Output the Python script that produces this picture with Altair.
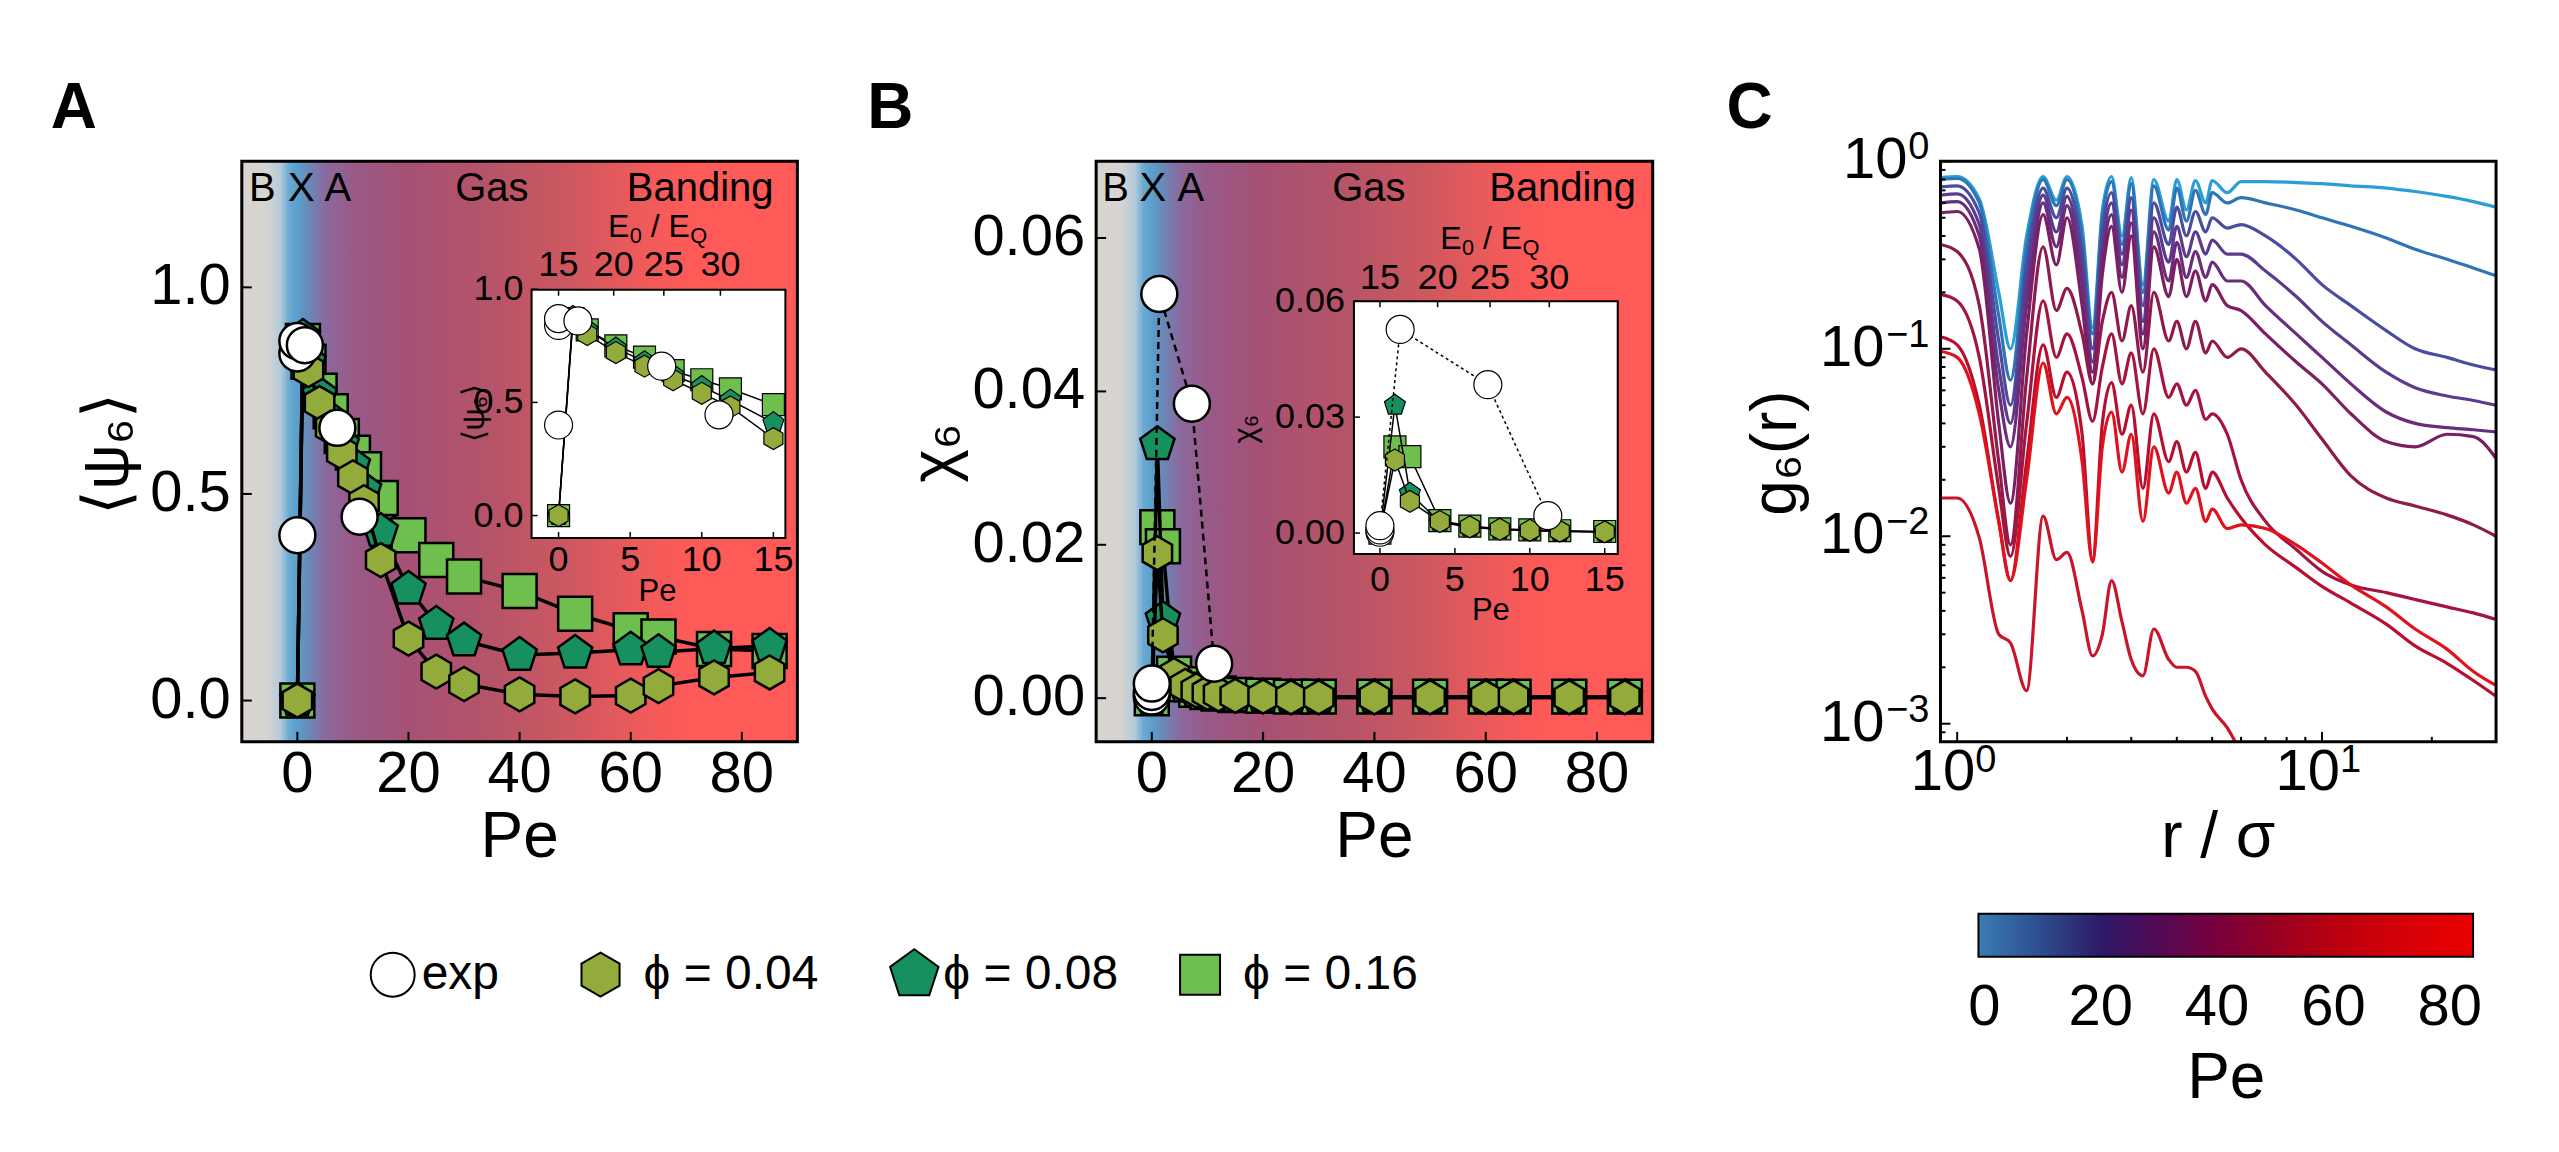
import altair as alt
import pandas as pd

FONT = "Liberation Sans"

# ---------------- Panel A / B data ----------------
PE_SIM = [0, 1, 2, 4, 6, 8, 10, 12, 15, 20, 25, 30, 40, 50, 60, 65, 75, 85]
PSI_PHI004 = [0.0, 0.86, 0.80, 0.72, 0.66, 0.60, 0.54, 0.48, 0.34, 0.15, 0.07, 0.04, 0.015, 0.01, 0.012, 0.035, 0.056, 0.068]
PSI_PHI008 = [0.0, 0.88, 0.82, 0.74, 0.68, 0.62, 0.57, 0.51, 0.41, 0.27, 0.185, 0.145, 0.11, 0.115, 0.123, 0.117, 0.126, 0.132]
PSI_PHI016 = [0.0, 0.87, 0.82, 0.75, 0.70, 0.64, 0.60, 0.56, 0.49, 0.40, 0.34, 0.30, 0.265, 0.21, 0.17, 0.155, 0.125, 0.12]
CHI_PHI004 = [0.0, 0.0189, 0.0082, 0.0030, 0.0016, 0.0010, 0.0007, 0.0005, 0.0003, 0.0002, 0.0001, 0.0001, 0.0001, 0.0001, 0.0001, 0.0001, 0.0001, 0.0001]
CHI_PHI008 = [0.0, 0.0331, 0.0103, 0.0028, 0.0015, 0.0009, 0.0006, 0.0004, 0.0002, 0.0002, 0.0001, 0.0001, 0.0001, 0.0001, 0.0001, 0.0001, 0.0001, 0.0001]
CHI_PHI016 = [0.0, 0.0223, 0.0198, 0.0032, 0.0018, 0.0011, 0.0008, 0.0006, 0.0004, 0.0003, 0.0002, 0.0002, 0.0002, 0.0002, 0.0002, 0.0002, 0.0002, 0.0002]
PE_EXP = [0, 0, 0, 1.35, 7.2, 11.2]
PSI_EXP = [0.40, 0.84, 0.87, 0.86, 0.66, 0.445]
CHI_EXP = [0.0002, 0.0008, 0.0019, 0.0527, 0.0384, 0.0045]

PHASE_NAMES = ["B", "X", "A", "Gas", "Banding"]
PHASE_PE_A = [-6.3, 0.7, 7.3, 35, 72.5]
PHASE_PE_B = [-6.5, 0.2, 7.0, 39, 73.8]

E0_LABELS = ["15", "20", "25", "30"]
E0_PE = [0.0, 3.85, 7.35, 11.3]

MAIN_X_TICKS = [0, 20, 40, 60, 80]
A_Y_TICKS = [0.0, 0.5, 1.0]
B_Y_TICKS = [0.0, 0.02, 0.04, 0.06]
INSET_X_TICKS = [0, 5, 10, 15]
INSET_A_Y_TICKS = [0.0, 0.5, 1.0]
INSET_B_Y_TICKS = [0.0, 0.03, 0.06]

LEGEND_LABELS = ["exp", "ϕ = 0.04", "ϕ = 0.08", "ϕ = 0.16"]

# background phase gradient (Pe position -> colour)
GRAD_PE = [-10, -5.5, -3, -1.5, 0, 2, 5, 10, 20, 35, 50, 62, 70, 90]
GRAD_COL = ["#d8d5d0", "#d6d4d0", "#b4cadb", "#6aaad4", "#5b9fcb", "#6a88b8", "#8a6a9e",
            "#985a88", "#a65174", "#b65468", "#d0585f", "#ef5a5a", "#fd5a58", "#ff5a58"]

# ---------------- Panel C data ----------------
R_GRID = [0.9, 1.0, 1.15, 1.3, 1.4, 1.55, 1.72, 1.87, 2.0, 2.2, 2.35, 2.5, 2.65, 2.83, 3.0, 3.23, 3.46,
          3.8, 4.0, 4.25, 4.5, 4.8, 5.0, 5.5, 6.0, 7.0, 8.5, 10, 12, 15, 18, 22, 26, 30]
G6_C01 = [0.82, 0.83, 0.63, 0.20, 0.10, 0.40, 0.83, 0.62, 0.83, 0.45, 0.13, 0.55, 0.83, 0.40, 0.82, 0.22, 0.80,
          0.48, 0.80, 0.55, 0.79, 0.60, 0.79, 0.68, 0.78, 0.78, 0.77, 0.76, 0.74, 0.72, 0.69, 0.65, 0.61, 0.57]
G6_C02 = [0.80, 0.81, 0.60, 0.15, 0.068, 0.35, 0.80, 0.58, 0.80, 0.40, 0.12, 0.50, 0.78, 0.36, 0.76, 0.20, 0.74,
          0.43, 0.72, 0.48, 0.70, 0.52, 0.68, 0.60, 0.64, 0.60, 0.55, 0.50, 0.45, 0.39, 0.34, 0.30, 0.27, 0.245]
G6_C03 = [0.73, 0.74, 0.53, 0.11, 0.050, 0.28, 0.72, 0.50, 0.72, 0.33, 0.10, 0.42, 0.68, 0.32, 0.64, 0.17, 0.60,
          0.36, 0.57, 0.40, 0.54, 0.42, 0.50, 0.44, 0.46, 0.40, 0.30, 0.22, 0.17, 0.125, 0.10, 0.090, 0.082, 0.077]
G6_C04 = [0.66, 0.67, 0.46, 0.08, 0.040, 0.22, 0.66, 0.42, 0.65, 0.27, 0.085, 0.35, 0.60, 0.28, 0.55, 0.14, 0.50,
          0.29, 0.45, 0.31, 0.42, 0.32, 0.38, 0.32, 0.32, 0.26, 0.19, 0.14, 0.105, 0.075, 0.062, 0.056, 0.053, 0.050]
G6_C05 = [0.60, 0.61, 0.40, 0.06, 0.030, 0.17, 0.60, 0.35, 0.58, 0.22, 0.075, 0.30, 0.52, 0.24, 0.47, 0.12, 0.42,
          0.23, 0.37, 0.24, 0.33, 0.24, 0.29, 0.23, 0.23, 0.17, 0.12, 0.090, 0.065, 0.046, 0.040, 0.038, 0.037, 0.036]
G6_C06 = [0.53, 0.54, 0.34, 0.04, 0.015, 0.12, 0.52, 0.28, 0.50, 0.17, 0.065, 0.25, 0.45, 0.20, 0.40, 0.10, 0.35,
          0.19, 0.30, 0.19, 0.26, 0.18, 0.22, 0.17, 0.16, 0.12, 0.085, 0.065, 0.045, 0.032, 0.030, 0.035, 0.034, 0.026]
G6_C07 = [0.36, 0.33, 0.17, 0.025, 0.009, 0.07, 0.35, 0.16, 0.21, 0.12, 0.065, 0.14, 0.20, 0.11, 0.17, 0.075, 0.20,
          0.11, 0.14, 0.10, 0.14, 0.095, 0.11, 0.09, 0.10, 0.075, 0.05, 0.033, 0.021, 0.016, 0.0145, 0.013, 0.0115, 0.010]
G6_C08 = [0.195, 0.18, 0.09, 0.018, 0.0078, 0.04, 0.18, 0.09, 0.12, 0.07, 0.041, 0.08, 0.12, 0.065, 0.095, 0.045, 0.10,
          0.055, 0.065, 0.05, 0.06, 0.042, 0.045, 0.035, 0.02, 0.012, 0.0085, 0.0065, 0.0055, 0.005, 0.0046, 0.0042, 0.0039, 0.0036]
G6_C09 = [0.116, 0.105, 0.05, 0.012, 0.0058, 0.025, 0.105, 0.055, 0.075, 0.035, 0.0075, 0.04, 0.066, 0.035, 0.05, 0.018, 0.045,
          0.025, 0.032, 0.022, 0.028, 0.018, 0.022, 0.016, 0.0125, 0.009, 0.0068, 0.0054, 0.0044, 0.0034, 0.0026, 0.0021, 0.0017, 0.0014]
G6_C10 = [0.097, 0.09, 0.045, 0.012, 0.0058, 0.02, 0.084, 0.045, 0.055, 0.025, 0.0073, 0.03, 0.046, 0.022, 0.035, 0.012, 0.03,
          0.017, 0.022, 0.015, 0.018, 0.012, 0.014, 0.011, 0.0115, 0.011, 0.009, 0.0072, 0.0055, 0.0042, 0.0032, 0.0025, 0.0019, 0.0016]
G6_C11 = [0.016, 0.016, 0.0098, 0.003, 0.0027, 0.0015, 0.0128, 0.0075, 0.0082, 0.004, 0.0023, 0.003, 0.0058, 0.0035, 0.0022, 0.0018, 0.0032,
          0.0022, 0.0020, 0.0020, 0.0019, 0.0014, 0.0012, 0.00095, 0.0007, None, None, None, None, None, None, None, None, None]
CURVE_NAMES = ["c01", "c02", "c03", "c04", "c05", "c06", "c07", "c08", "c09", "c10", "c11"]
CURVE_COLORS = ["#2a9fd6", "#2f74b4", "#4a4c9e", "#5c3b8e", "#6a2c7c", "#7c1e62", "#8f1a4c",
                "#a5143e", "#b80f30", "#e2121c", "#c9142a"]
CURVES = [G6_C01, G6_C02, G6_C03, G6_C04, G6_C05, G6_C06, G6_C07, G6_C08, G6_C09, G6_C10, G6_C11]

C_X_MAJOR = [1, 10]
C_X_EXP = ["0", "1"]
C_X_MINOR = [2, 3, 4, 5, 6, 7, 8, 9, 20, 30]
C_Y_MAJOR = [0.001, 0.01, 0.1, 1.0]
C_Y_EXP = ["−3", "−2", "−1", "0"]
C_Y_MINOR = [0.0009, 0.002, 0.003, 0.004, 0.005, 0.006, 0.007, 0.008, 0.009,
             0.02, 0.03, 0.04, 0.05, 0.06, 0.07, 0.08, 0.09,
             0.2, 0.3, 0.4, 0.5, 0.6, 0.7, 0.8, 0.9]

CB_PE = [-1, 10, 20, 30, 40, 50, 60, 70, 84]
CB_COL = ["#3a7db1", "#2d4b8c", "#2c1a68", "#530a55", "#78003c", "#980022", "#b90010", "#d10008", "#ea0000"]
CB_TICKS = [0, 20, 40, 60, 80]

# ---------------- style ----------------
HEX = "M0,-1L0.866,-0.5L0.866,0.5L0,1L-0.866,0.5L-0.866,-0.5Z"
PENT = "M0,-1L0.951,-0.309L0.588,0.809L-0.588,0.809L-0.951,-0.309Z"
COL_HEX = "#93ab3a"
COL_PENT = "#17905f"
COL_SQ = "#6fbf4f"
H = 581
LAB = 58
ONE = pd.DataFrame({"t": [""]})
ADV = {"E": 0.667, "0": 0.556, "/": 0.278, "Q": 0.778, " ": 0.278}


def text_layer(s, x, y, size, align="center", baseline="middle", angle=None, weight="normal", color="black"):
    kw = dict(text=s, fontSize=size, align=align, baseline=baseline, color=color,
              fontWeight=weight, font=FONT)
    if angle is not None:
        kw["angle"] = angle
    return alt.Chart(ONE).mark_text(**kw).encode(x=alt.value(x), y=alt.value(y))


def e0eq_layers(cx, base_y, size):
    sub = size * 0.68
    segs = [("E", size, 0, 0), ("0", sub, 0.18 * size, 0.05), ("/", size, 0, 1),
            ("E", size, 0, 1), ("Q", sub, 0.18 * size, 0.05)]
    total = sum(ADV[s] * f + pre * ADV[" "] * size for s, f, dy, pre in segs)
    x = cx - total / 2
    out = []
    for s, f, dy, pre in segs:
        x += pre * ADV[" "] * size
        out.append(text_layer(s, x, base_y + dy, f, align="left", baseline="alphabetic"))
        x += ADV[s] * f
    return out


def sim_df(psi, chi):
    return pd.DataFrame({"pe": PE_SIM, "psi": psi, "chi": chi, "i": list(range(len(PE_SIM)))})


EXP_DF = pd.DataFrame({"pe": PE_EXP, "psi": PSI_EXP, "chi": CHI_EXP, "i": list(range(len(PE_EXP)))})
SERIES = [
    (sim_df(PSI_PHI016, CHI_PHI016), "square", COL_SQ, 1156),
    (sim_df(PSI_PHI008, CHI_PHI008), PENT, COL_PENT, 1300),
    (sim_df(PSI_PHI004, CHI_PHI004), HEX, COL_HEX, 1156),
]


def series_layers(df, vcol, xs, ys, shape, fill, size, sw, line_w, dash=None, line=True):
    enc = dict(x=alt.X("pe:Q", scale=xs, axis=None), y=alt.Y(f"{vcol}:Q", scale=ys, axis=None),
               order=alt.Order("i:Q"))
    out = []
    if line:
        mk = dict(color="black", strokeWidth=line_w)
        if dash:
            mk["strokeDash"] = dash
        out.append(alt.Chart(df).mark_line(**mk).encode(**enc))
    out.append(alt.Chart(df).mark_point(shape=shape, filled=True, fill=fill, stroke="black",
                                        strokeWidth=sw, size=size, opacity=1).encode(**enc))
    return out


def xticks(values, xs, length, y0=H, width=2):
    return alt.Chart(pd.DataFrame({"v": values})).mark_rule(color="black", strokeWidth=width).encode(
        x=alt.X("v:Q", scale=xs, axis=None), y=alt.value(y0), y2=alt.value(y0 - length))


def yticks(values, ys, length, x0=0, width=2):
    return alt.Chart(pd.DataFrame({"v": values})).mark_rule(color="black", strokeWidth=width).encode(
        y=alt.Y("v:Q", scale=ys, axis=None), x=alt.value(x0), x2=alt.value(x0 + length))


def xlabels(values, xs, y, size, fmt):
    return alt.Chart(pd.DataFrame({"v": values})).mark_text(
        fontSize=size, color="black", baseline="middle", align="center", font=FONT).encode(
        x=alt.X("v:Q", scale=xs, axis=None), y=alt.value(y), text=alt.Text("v:Q", format=fmt))


def ylabels(values, ys, x, size, fmt):
    return alt.Chart(pd.DataFrame({"v": values})).mark_text(
        fontSize=size, color="black", baseline="middle", align="right", font=FONT).encode(
        y=alt.Y("v:Q", scale=ys, axis=None), x=alt.value(x), text=alt.Text("v:Q", format=fmt))


def frame(x0, x1, y0, y1, sw, fill=None):
    if fill:
        return alt.Chart(ONE).mark_rect(fill=fill, stroke="black", strokeWidth=sw).encode(
            x=alt.value(x0), x2=alt.value(x1), y=alt.value(y0), y2=alt.value(y1))
    return alt.Chart(ONE).mark_rect(fillOpacity=0, stroke="black", strokeWidth=sw).encode(
        x=alt.value(x0), x2=alt.value(x1), y=alt.value(y0), y2=alt.value(y1))


def panel_ab(key):
    c = CFG[key]
    pw = c["plot_w"]
    xs = alt.Scale(domain=[-10, 90], range=[0, pw], nice=False, zero=False)
    ys = alt.Scale(domain=c["ydom"], nice=False, zero=False)
    vcol = c["vcol"]
    grad = alt.LinearGradient(
        gradient="linear", x1=0, x2=1, y1=0, y2=0,
        stops=[alt.GradientStop(offset=(p + 10) / 100.0, color=col) for p, col in zip(GRAD_PE, GRAD_COL)])
    main = [alt.Chart(ONE).mark_rect(color=grad).encode(
        x=alt.value(0), x2=alt.value(pw), y=alt.value(0), y2=alt.value(H))]
    main.append(alt.Chart(pd.DataFrame({"pe": c["phase_pe"], "name": PHASE_NAMES})).mark_text(
        fontSize=40, color="black", baseline="middle", font=FONT).encode(
        x=alt.X("pe:Q", scale=xs, axis=None), y=alt.value(28), text="name:N"))
    for df, shape, fill, size in SERIES:
        main += series_layers(df, vcol, xs, ys, shape, fill, size, 2.5, 3.5)
    if c["exp_line"]:
        main += series_layers(EXP_DF, vcol, xs, ys, "circle", "white", 1296, 2.5, 2.5, dash=[7, 5])
    else:
        main += series_layers(EXP_DF, vcol, xs, ys, "circle", "white", 1296, 2.5, 2.5, line=False)
    main.append(xticks(MAIN_X_TICKS, xs, 10))
    main.append(yticks(c["yticks"], ys, 10))
    main.append(xlabels(MAIN_X_TICKS, xs, H + 33, LAB, "d"))
    main.append(ylabels(c["yticks"], ys, -11, LAB, c["yfmt"]))

    ic = c["inset"]
    ixs = alt.Scale(domain=[0, 15], range=ic["xr"], nice=False, zero=False)
    iys = alt.Scale(domain=ic["yd"], range=ic["yr"], nice=False, zero=False)
    inset = [frame(ic["x0"], ic["x1"], ic["y0"], ic["y1"], 2, fill="white")]
    for df, shape, fill, size in SERIES:
        inset += series_layers(df[df.pe <= 15.5], vcol, ixs, iys, shape, fill, 484, 1.2, 1.5)
    if c["exp_line"]:
        inset += series_layers(EXP_DF, vcol, ixs, iys, "circle", "white", 784, 1.2, 1.5, dash=[3, 3])
    else:
        inset += series_layers(EXP_DF, vcol, ixs, iys, "circle", "white", 784, 1.2, 1.5, line=False)
    inset.append(xticks(INSET_X_TICKS, ixs, 6, y0=ic["y1"], width=1.5))
    inset.append(xticks(E0_PE, ixs, -6, y0=ic["y0"], width=1.5))
    inset.append(yticks(ic["yticks"], iys, 6, x0=ic["x0"], width=1.5))
    inset.append(xlabels(INSET_X_TICKS, ixs, ic["xlab_y"], 36, "d"))
    inset.append(alt.Chart(pd.DataFrame({"v": E0_PE, "lab": E0_LABELS})).mark_text(
        fontSize=36, color="black", baseline="middle", font=FONT).encode(
        x=alt.X("v:Q", scale=ixs, axis=None), y=alt.value(ic["top_lab_y"]), text="lab:N"))
    inset.append(ylabels(ic["yticks"], iys, ic["ylab_x"], 36, ic["yfmt"]))

    over = []
    over.append(text_layer("Pe", ic["title_pe"][0], ic["title_pe"][1], 31))
    over.append(text_layer(c["ytitle"], ic["ytitle"][0], ic["ytitle"][1], 31, angle=270))
    over += e0eq_layers(ic["e0_cx"], ic["e0_y"], 32)
    over.append(frame(0, pw, 0, H, 3))
    over.append(text_layer(c["ytitle"], c["ytitle_pos"][0], c["ytitle_pos"][1], 64, angle=270))
    over.append(text_layer("Pe", pw / 2, 677, 64))
    over.append(text_layer(key, c["letter_pos"][0], c["letter_pos"][1], 64, weight="bold"))
    if key == "A":
        over.append(alt.Chart(ONE).mark_rect(opacity=0).encode(
            x=alt.value(-241), x2=alt.value(-240), y=alt.value(-160), y2=alt.value(-159)))
        leg = [("circle", "white", 1936, 151, 180), (HEX, COL_HEX, 1936, 359, 402),
               (PENT, COL_PENT, 2600, 673, 702), ("square", COL_SQ, 1600, 959, 1002)]
        for (shape, fill, size, mx, tx), lab in zip(leg, LEGEND_LABELS):
            over.append(alt.Chart(ONE).mark_point(shape=shape, filled=True, fill=fill, stroke="black",
                                                  strokeWidth=2, size=size, opacity=1).encode(
                x=alt.value(mx), y=alt.value(814)))
            over.append(text_layer(lab, tx, 814, 48, align="left"))

    return alt.layer(alt.layer(*main), alt.layer(*inset), alt.layer(*over)).resolve_scale(
        x="independent", y="independent").properties(width=c["view_w"], height=H)


CFG = {
    "A": dict(view_w=567, plot_w=556, ydom=[-0.1, 1.305], yticks=A_Y_TICKS, yfmt=".1f", vcol="psi",
              phase_pe=PHASE_PE_A, exp_line=False, ytitle="⟨ψ₆⟩", ytitle_pos=(-133, 293),
              letter_pos=(-168, -52),
              inset=dict(x0=290, x1=544, y0=128.5, y1=377, xr=[317, 532], yd=[0, 1], yr=[354.5, 128],
                         yticks=INSET_A_Y_TICKS, yfmt=".1f", xlab_y=399, title_pe=(416, 431), ylab_x=282,
                         ytitle=(233, 252), top_lab_y=104, e0_y=76, e0_cx=416)),
    "B": dict(view_w=557, plot_w=557, ydom=[-0.0057, 0.0700], yticks=B_Y_TICKS, yfmt=".2f", vcol="chi",
              phase_pe=PHASE_PE_B, exp_line=True, ytitle="χ₆", ytitle_pos=(-160, 292),
              letter_pos=(-206, -52),
              inset=dict(x0=258, x1=522, y0=140, y1=393, xr=[284, 509], yd=[0, 0.06], yr=[372, 140],
                         yticks=INSET_B_Y_TICKS, yfmt=".2f", xlab_y=419, title_pe=(395, 450), ylab_x=249,
                         ytitle=(150, 268), top_lab_y=117, e0_y=88, e0_cx=394)),
}


def panel_c():
    W = 556
    xs = alt.Scale(type="log", domain=[0.9, 30], nice=False)
    ys = alt.Scale(type="log", domain=[0.0008, 1.0], nice=False)
    rows = []
    for name, col, vals in zip(CURVE_NAMES, CURVE_COLORS, CURVES):
        for r, g in zip(R_GRID, vals):
            if g is not None:
                rows.append(dict(curve=name, col=col, r=r, g=g))
    dfc = pd.DataFrame(rows)
    lines = alt.Chart(dfc).mark_line(strokeWidth=3.2, clip=True, interpolate="monotone").encode(
        x=alt.X("r:Q", scale=xs, axis=None), y=alt.Y("g:Q", scale=ys, axis=None),
        color=alt.Color("col:N", scale=None), detail="curve:N", order=alt.Order("r:Q"))
    layers = [lines,
              xticks(C_X_MAJOR, xs, 10), xticks(C_X_MINOR, xs, 5),
              yticks(C_Y_MAJOR, ys, 10), yticks(C_Y_MINOR, ys, 5)]
    dfx = pd.DataFrame({"v": C_X_MAJOR, "e": C_X_EXP, "b": ["10"] * len(C_X_MAJOR)})
    layers.append(alt.Chart(dfx).mark_text(fontSize=LAB, align="right", baseline="middle", dx=18,
                                           color="black", font=FONT).encode(
        x=alt.X("v:Q", scale=xs, axis=None), y=alt.value(H + 31), text="b:N"))
    layers.append(alt.Chart(dfx).mark_text(fontSize=38, align="left", baseline="middle", dx=18, dy=-12,
                                           color="black", font=FONT).encode(
        x=alt.X("v:Q", scale=xs, axis=None), y=alt.value(H + 31), text="e:N"))
    dfy = pd.DataFrame({"v": C_Y_MAJOR, "e": C_Y_EXP, "b": ["10"] * len(C_Y_MAJOR)})
    layers.append(alt.Chart(dfy).mark_text(fontSize=38, align="right", baseline="middle", dy=-13,
                                           color="black", font=FONT).encode(
        y=alt.Y("v:Q", scale=ys, axis=None), x=alt.value(-11), text="e:N"))
    for short, xpos in [(True, -33), (False, -56)]:
        sub = dfy[(dfy.e.str.len() == 1) == short]
        layers.append(alt.Chart(sub).mark_text(fontSize=LAB, align="right", baseline="middle",
                                               color="black", font=FONT).encode(
            y=alt.Y("v:Q", scale=ys, axis=None), x=alt.value(xpos), text="b:N"))
    cb = alt.Chart(pd.DataFrame({"pe": [CB_PE[0], CB_PE[-1]]})).mark_point(opacity=0).encode(
        color=alt.Color("pe:Q", scale=alt.Scale(domain=CB_PE, range=CB_COL, interpolate="rgb"),
                        legend=alt.Legend(orient="none", legendX=38, legendY=753, direction="horizontal",
                                          gradientLength=495, gradientThickness=43,
                                          gradientStrokeColor="black", gradientStrokeWidth=2,
                                          values=CB_TICKS, labelFontSize=LAB, labelFont=FONT,
                                          labelColor="black", labelOffset=22, labelAlign="center",
                                          title="Pe", titleOrient="bottom", titleFontSize=64,
                                          titleFont=FONT, titleFontWeight="normal", titleColor="black",
                                          titleAnchor="middle", titlePadding=10)))
    layers.append(cb)
    layers.append(frame(0, W, 0, H, 3))
    layers.append(text_layer("g₆(r)", -164, 292, 64, angle=270))
    layers.append(text_layer("r / σ", W / 2, 677, 64))
    layers.append(text_layer("C", -191, -52, 64, weight="bold"))
    layers.append(alt.Chart(ONE).mark_rect(opacity=0).encode(
        x=alt.value(617), x2=alt.value(618), y=alt.value(992), y2=alt.value(993)))
    inner = alt.layer(*layers).resolve_scale(color="independent")
    cbx = alt.Scale(domain=[CB_PE[0], CB_PE[-1]], range=[38, 533], nice=False, zero=False)
    cb_ticks = xticks(CB_TICKS[1:], cbx, 7, y0=796, width=2)
    return alt.layer(inner, cb_ticks).resolve_scale(x="independent").properties(width=W, height=H)


chart = alt.hconcat(panel_ab("A"), panel_ab("B"), panel_c(), spacing=288, bounds="flush").properties(
    padding=0).configure(font=FONT).configure_view(stroke="transparent")

chart.save("out.html", embed_options={"renderer": "svg", "actions": False})
